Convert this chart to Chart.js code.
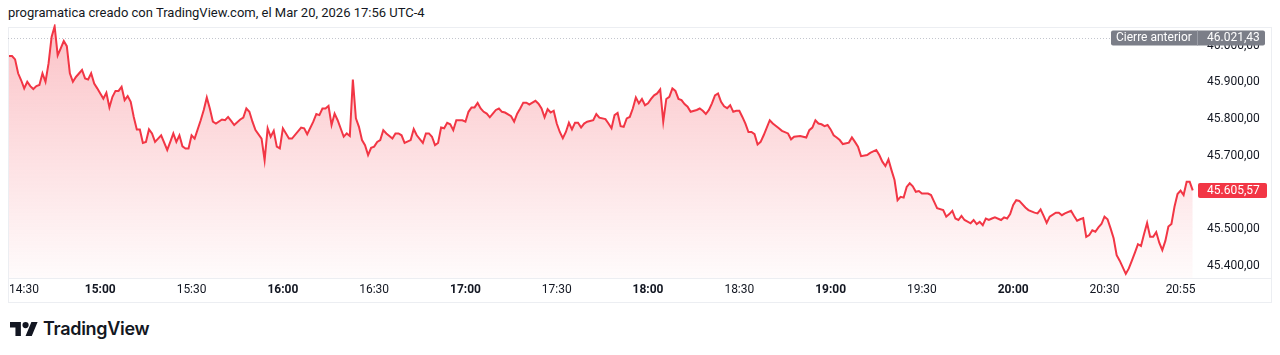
<!DOCTYPE html>
<html lang="es">
<head>
<meta charset="UTF-8">
<title>programatica</title>
<script src="https://cdn.jsdelivr.net/npm/chart.js"></script>
<style>
  body { margin: 0; width: 1280px; height: 355px; background: #fff; color: #131722; font-family: Roboto, sans-serif; overflow: hidden; position: relative; }
  #title { position: absolute; left: 8px; top: 5px; font-size: 13px; white-space: nowrap; }
  #frame { position: absolute; left: 8px; top: 27px; width: 1264px; height: 276px; border: 1px solid #eceef2; box-sizing: border-box; }
  #axisline { position: absolute; left: 8px; top: 278px; width: 1264px; height: 1px; background: #eceef2; }
  #wrap { position: absolute; left: 3px; top: 7px; width: 1269px; height: 295px; }
  #logo { position: absolute; left: 10px; top: 318px; display: flex; align-items: center; gap: 5px; font-family: Inter, sans-serif; font-weight: 600; font-size: 18px; letter-spacing: -0.3px; color: #131722; }
</style>
</head>
<body>
<div id="title">programatica creado con TradingView.com, el Mar 20, 2026 17:56 UTC-4</div>
<div id="frame"></div>
<div id="axisline"></div>
<div id="wrap"><canvas id="chart"></canvas></div>
<div id="logo">
  <svg width="28" height="14" viewBox="0 4 36 18"><path d="M14 22H7V11H0V4h14v18zM28 22h-8l7.5-18h8L28 22z" fill="#131722"/><circle cx="20" cy="8" r="4" fill="#131722"/></svg>
  <span>TradingView</span>
</div>
<script>
// minutes after 14:30
const minutes = [
  0, 1, 2, 3, 4, 5, 6, 7, 8, 9, 10, 11, 12, 13, 14, 15, 16, 17, 18, 19, 20, 21, 22, 24, 25, 26, 27, 28, 29, 30,
  31, 32, 33, 34, 35, 36, 37, 38, 39, 40, 41, 42, 43, 44, 45, 46, 47, 48, 49, 50, 52, 53, 54, 55, 56, 57, 58, 59, 60, 61,
  63, 64, 65, 66, 67, 68, 70, 71, 72, 73, 74, 76, 77, 78, 79, 80, 81, 83, 84, 85, 86, 87, 88, 89, 90, 92, 93, 96, 97, 98,
  100, 101, 102, 103, 104, 105, 106, 107, 108, 110, 111, 112, 113, 114, 115, 116, 117, 118, 119, 120, 121, 122, 123, 124, 126, 127, 128, 129, 130, 132,
  133, 134, 136, 137, 138, 139, 140, 141, 142, 143, 144, 145, 146, 147, 149, 150, 151, 152, 153, 154, 155, 156, 157, 158, 159, 160, 161, 162, 163, 165,
  166, 167, 168, 169, 170, 171, 172, 173, 174, 175, 176, 177, 178, 179, 180, 181, 182, 183, 184, 185, 186, 187, 188, 189, 190, 192, 193, 194, 196, 197,
  198, 199, 200, 201, 202, 203, 204, 205, 206, 207, 208, 209, 210, 211, 212, 213, 214, 215, 216, 217, 218, 219, 220, 221, 222, 223, 224, 226, 227, 228,
  229, 230, 231, 232, 233, 234, 235, 236, 237, 238, 239, 240, 241, 242, 243, 244, 245, 246, 247, 248, 250, 251, 253, 254, 256, 257, 258, 260, 262, 263,
  264, 265, 266, 267, 268, 269, 270, 271, 272, 273, 274, 276, 277, 278, 279, 280, 282, 283, 285, 286, 287, 288, 289, 290, 291, 292, 293, 294, 295, 296,
  297, 298, 299, 300, 302, 303, 304, 305, 307, 308, 309, 310, 311, 312, 313, 314, 316, 317, 318, 319, 320, 321, 322, 323, 324, 326, 327, 328, 329, 330,
  331, 332, 334, 335, 337, 338, 339, 340, 341, 342, 344, 345, 346, 347, 349, 350, 351, 352, 353, 354, 355, 356, 357, 358, 359, 360, 361, 362, 363, 364,
  365, 367, 368, 369, 370, 371, 372, 373, 374, 375, 376, 377, 378, 379, 380, 381, 382, 383, 384, 385, 386, 387, 388, 389
];
const prices = [
  45972, 45972, 45963, 45925, 45906, 45884, 45902, 45890, 45882, 45890, 45893, 45925, 45902, 45952, 46024, 46053, 45974, 45993, 46013, 45999, 45925, 45902, 45915, 45934, 45911, 45908, 45925, 45897, 45884, 45870,
  45856, 45872, 45832, 45861, 45877, 45877, 45888, 45852, 45863, 45847, 45806, 45772, 45772, 45735, 45738, 45772, 45761, 45738, 45747, 45756, 45716, 45738, 45761, 45738, 45756, 45726, 45720, 45720, 45756, 45747,
  45797, 45825, 45859, 45829, 45793, 45788, 45799, 45797, 45806, 45795, 45784, 45799, 45804, 45829, 45820, 45793, 45770, 45747, 45688, 45775, 45752, 45768, 45725, 45720, 45775, 45747, 45747, 45777, 45775, 45759,
  45793, 45814, 45811, 45829, 45829, 45836, 45784, 45815, 45797, 45752, 45761, 45754, 45908, 45802, 45779, 45743, 45729, 45702, 45722, 45725, 45738, 45743, 45770, 45761, 45747, 45761, 45761, 45756, 45735, 45743,
  45773, 45756, 45735, 45761, 45761, 45752, 45729, 45735, 45777, 45775, 45790, 45786, 45770, 45797, 45797, 45793, 45820, 45832, 45832, 45844, 45829, 45820, 45815, 45805, 45815, 45825, 45829, 45820, 45818, 45808,
  45793, 45815, 45829, 45845, 45845, 45840, 45845, 45850, 45842, 45829, 45805, 45827, 45818, 45823, 45788, 45765, 45748, 45765, 45790, 45772, 45790, 45790, 45777, 45788, 45793, 45797, 45814, 45804, 45800, 45788,
  45775, 45811, 45817, 45781, 45779, 45802, 45806, 45829, 45859, 45843, 45855, 45838, 45843, 45855, 45865, 45870, 45881, 45793, 45855, 45861, 45884, 45877, 45855, 45852, 45841, 45834, 45820, 45825, 45829, 45823,
  45814, 45825, 45843, 45865, 45870, 45847, 45835, 45830, 45838, 45820, 45823, 45823, 45806, 45788, 45765, 45765, 45759, 45731, 45738, 45756, 45797, 45788, 45775, 45768, 45761, 45745, 45752, 45754, 45750, 45770,
  45777, 45797, 45788, 45786, 45781, 45784, 45772, 45756, 45750, 45743, 45732, 45736, 45750, 45738, 45725, 45699, 45702, 45708, 45716, 45702, 45684, 45672, 45690, 45661, 45634, 45579, 45588, 45586, 45615, 45625,
  45617, 45602, 45604, 45597, 45597, 45593, 45575, 45557, 45552, 45534, 45541, 45550, 45529, 45525, 45536, 45525, 45516, 45525, 45514, 45520, 45511, 45529, 45525, 45529, 45532, 45525, 45532, 45529, 45541, 45566,
  45579, 45577, 45559, 45552, 45545, 45543, 45554, 45536, 45517, 45534, 45545, 45545, 45538, 45543, 45550, 45536, 45523, 45527, 45530, 45479, 45484, 45497, 45493, 45505, 45514, 45534, 45527, 45502, 45475, 45429,
  45414, 45378, 45393, 45414, 45436, 45459, 45454, 45487, 45517, 45479, 45479, 45492, 45463, 45443, 45468, 45507, 45514, 45561, 45596, 45605, 45593, 45629, 45629, 45605.57
];
const timeTicks = [0, 30, 60, 90, 120, 150, 180, 210, 240, 270, 300, 330, 360, 385];
const timeLabels = ['14:30', '15:00', '15:30', '16:00', '16:30', '17:00', '17:30', '18:00', '18:30', '19:00', '19:30', '20:00', '20:30', '20:55'];
const priceTicks = [45400, 45500, 45600, 45700, 45800, 45900, 46000];
const prevClose = 46021.43;
const lastPrice = 45605.57;

const RED = '#f23645';
const X_MIN = -1.97, X_MAX = 390.4;

function fmt(v) {
  const parts = v.toFixed(2).split('.');
  return parts[0].replace(/\B(?=(\d{3})+(?!\d))/g, '.') + ',' + parts[1];
}

function roundRect(ctx, x, y, w, h, r) {
  ctx.beginPath();
  ctx.moveTo(x + r, y);
  ctx.arcTo(x + w, y, x + w, y + h, r);
  ctx.arcTo(x + w, y + h, x, y + h, r);
  ctx.arcTo(x, y + h, x, y, r);
  ctx.arcTo(x, y, x + w, y, r);
  ctx.closePath();
}

const overlay = {
  id: 'overlay',
  beforeDatasetsDraw(chart) {
    const { ctx, chartArea, scales } = chart;
    const py = Math.round(scales.y.getPixelForValue(prevClose)) + 0.5;
    ctx.save();
    ctx.strokeStyle = '#c3c6ce';
    ctx.lineWidth = 1;
    ctx.setLineDash([1, 2]);
    ctx.beginPath();
    ctx.moveTo(scales.x.getPixelForValue(0) - 1, py);
    ctx.lineTo(chartArea.right, py);
    ctx.stroke();
    ctx.restore();
  },
  afterDraw(chart) {
    const { ctx, chartArea, scales } = chart;
    const r = chartArea.right;
    ctx.save();
    ctx.textBaseline = 'middle';
    // previous close badge
    let py = scales.y.getPixelForValue(prevClose);
    ctx.fillStyle = '#7b7e88';
    roundRect(ctx, r - 86, py - 7.5, 154, 15, 2);
    ctx.fill();
    ctx.fillStyle = '#9a9da6';
    ctx.fillRect(r, py - 7.5, 1, 15);
    ctx.fillStyle = '#fff';
    ctx.font = '12px Roboto';
    ctx.textAlign = 'left';
    ctx.fillText('Cierre anterior', r - 81, py + 0.5);
    ctx.fillText(fmt(prevClose), r + 10, py + 0.5);
    // last price badge
    py = scales.y.getPixelForValue(lastPrice);
    ctx.fillStyle = RED;
    roundRect(ctx, r + 1, py - 7.5, 69, 15, 2);
    ctx.fill();
    ctx.fillStyle = '#fff';
    ctx.fillText(fmt(lastPrice), r + 10, py + 0.5);
    ctx.restore();
  }
};

Chart.defaults.font.family = 'Roboto';
Chart.defaults.color = '#131722';

new Chart(document.getElementById('chart'), {
  type: 'line',
  data: {
    datasets: [{
      data: minutes.map((m, i) => ({ x: m, y: prices[i] })),
      borderColor: RED,
      borderWidth: 2,
      pointRadius: 0,
      tension: 0,
      fill: 'start',
      backgroundColor: (c) => {
        const area = c.chart.chartArea;
        if (!area) return 'rgba(242,54,69,0.1)';
        const g = c.chart.ctx.createLinearGradient(0, area.top, 0, area.bottom);
        g.addColorStop(0, 'rgba(242,54,69,0.30)');
        g.addColorStop(1, 'rgba(242,54,69,0.02)');
        return g;
      }
    }]
  },
  options: {
    responsive: true,
    maintainAspectRatio: false,
    animation: false,
    layout: { padding: 0 },
    plugins: { legend: { display: false }, tooltip: { enabled: false } },
    scales: {
      x: {
        type: 'linear',
        min: X_MIN,
        max: X_MAX,
        grid: { display: false, drawTicks: false },
        border: { display: false },
        afterBuildTicks: (s) => { s.ticks = timeTicks.concat([X_MAX]).map(v => ({ value: v })); },
        afterFit: (s) => { s.height = 24; },
        ticks: {
          autoSkip: false,
          maxRotation: 0,
          align: 'inner',
          padding: 5,
          font: (c) => ({ size: 12, weight: (c.tick && String(timeLabels[timeTicks.indexOf(c.tick.value)]).endsWith(':00')) ? 'bold' : 'normal' }),
          callback: (v) => { const i = timeTicks.indexOf(v); return i >= 0 ? timeLabels[i] : ''; }
        }
      },
      y: {
        position: 'right',
        min: 45366.8,
        max: 46058.9,
        grid: { display: false, drawTicks: false },
        border: { display: false },
        afterBuildTicks: (s) => { s.ticks = priceTicks.map(v => ({ value: v })); },
        afterFit: (s) => { s.width = 75; },
        ticks: { padding: 10, font: { size: 12 }, callback: (v) => fmt(v) }
      }
    }
  },
  plugins: [overlay]
});
</script>
</body>
</html>
